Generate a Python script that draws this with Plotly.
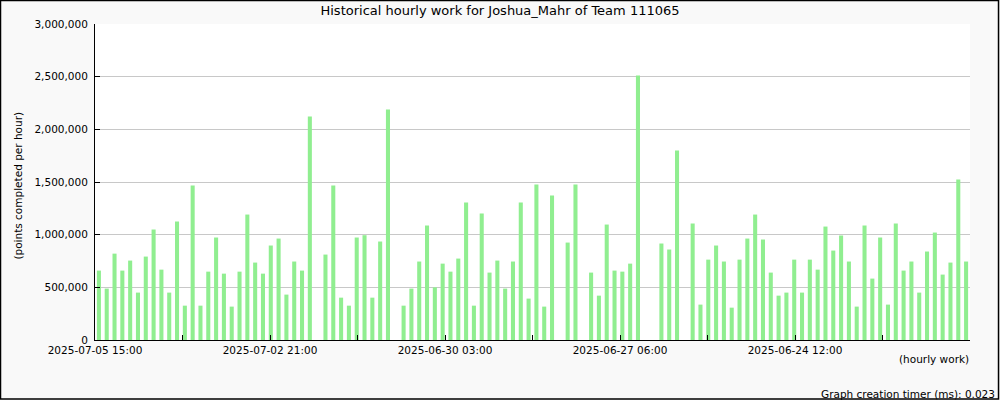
import plotly.graph_objects as go

# Hourly work values (points), newest first, from 2025-07-05 15:00 backwards; 0 = no data
values = [
    659000, 488000, 820000, 659000, 754000, 450000, 792000, 1049000, 668000, 450000,
    1125000, 326000, 1467000, 326000, 649000, 973000, 630000, 317000, 649000, 1191000,
    735000, 630000, 897000, 963000, 431000, 745000, 659000, 2123000, 0, 811000,
    1467000, 402000, 326000, 973000, 995000, 402000, 935000, 2189000, 0, 326000,
    488000, 745000, 1087000, 500000, 725000, 649000, 773000, 1305000, 326000, 1201000,
    640000, 754000, 488000, 745000, 1305000, 393000, 1476000, 317000, 1372000, 0,
    925000, 1476000, 0, 640000, 421000, 1096000, 659000, 649000, 725000, 2512000,
    0, 0, 916000, 859000, 1799000, 0, 1106000, 336000, 763000, 897000,
    745000, 307000, 763000, 963000, 1191000, 954000, 640000, 421000, 450000, 763000,
    450000, 763000, 668000, 1077000, 849000, 992000, 745000, 317000, 1087000, 583000,
    973000, 336000, 1106000, 659000, 745000, 450000, 840000, 1020000, 621000, 735000,
    1524000, 745000,
]
x_labels = ["2025-07-05 15:00", "2025-07-02 21:00", "2025-06-30 03:00",
            "2025-06-27 06:00", "2025-06-24 12:00"]
title = "Historical hourly work for Joshua_Mahr of Team 111065"

n = len(values)
idx = list(range(n))
step = n / 10.0
tickvals = [-0.5 + step * k for k in range(10)]
ticktext = []
for k in range(10):
    ticktext.append(x_labels[k // 2] if k % 2 == 0 else "")

FONT = "DejaVu Sans"
fig = go.Figure()
fig.add_trace(go.Bar(x=idx, y=values, marker=dict(color="#90EE90", line=dict(width=0)),
                     hoverinfo="y"))

fig.update_layout(
    width=1000, height=400,
    margin=dict(l=95, r=30, t=24, b=60),
    paper_bgcolor="#f9f9f9", plot_bgcolor="#ffffff",
    bargap=0.48, showlegend=False,
    font=dict(family=FONT, size=10, color="#000000"),
    title=dict(text=title, x=0.5, xanchor="center", y=0.973, yanchor="middle",
               font=dict(family=FONT, size=13, color="#000000")),
    xaxis=dict(range=[-0.5, n - 0.5], tickmode="array", tickvals=tickvals, ticktext=ticktext,
               ticks="inside", ticklen=5, tickcolor="#000000", showgrid=False,
               showline=True, linecolor="#000000", linewidth=1, zeroline=False,
               tickfont=dict(family=FONT, size=10.5), ticklabelstandoff=0),
    yaxis=dict(range=[0, 3000000], dtick=500000, tickformat=",d",
               ticks="inside", ticklen=5, tickcolor="#000000",
               showgrid=True, gridcolor="#c8c8c8", gridwidth=1,
               showline=True, linecolor="#000000", linewidth=1, zeroline=False,
               tickfont=dict(family=FONT, size=10.5), ticklabelstandoff=4),
    shapes=[dict(type="rect", xref="paper", yref="paper", x0=-0.108, x1=1.0326,
                 y0=-0.1867, y1=1.0744, line=dict(color="#000000", width=1.5),
                 fillcolor="rgba(0,0,0,0)", layer="below")],
    annotations=[
        dict(text="(points completed per hour)", xref="paper", yref="paper",
             x=-0.0875, y=0.49, textangle=-90, showarrow=False,
             font=dict(family=FONT, size=10.5), xanchor="center", yanchor="middle"),
        dict(text="(hourly work)", xref="paper", yref="paper", x=1.0015, y=-0.06,
             showarrow=False, xanchor="right", yanchor="middle",
             font=dict(family=FONT, size=10.5)),
        dict(text="Graph creation timer (ms): 0.023", xref="paper", yref="paper",
             x=1.031, y=-0.17, showarrow=False, xanchor="right", yanchor="middle",
             font=dict(family=FONT, size=10.5)),
    ],
)
fig.write_html("out.html", config={"displayModeBar": False},
               post_script="document.body.style.margin='0';document.body.style.overflow='hidden';")
